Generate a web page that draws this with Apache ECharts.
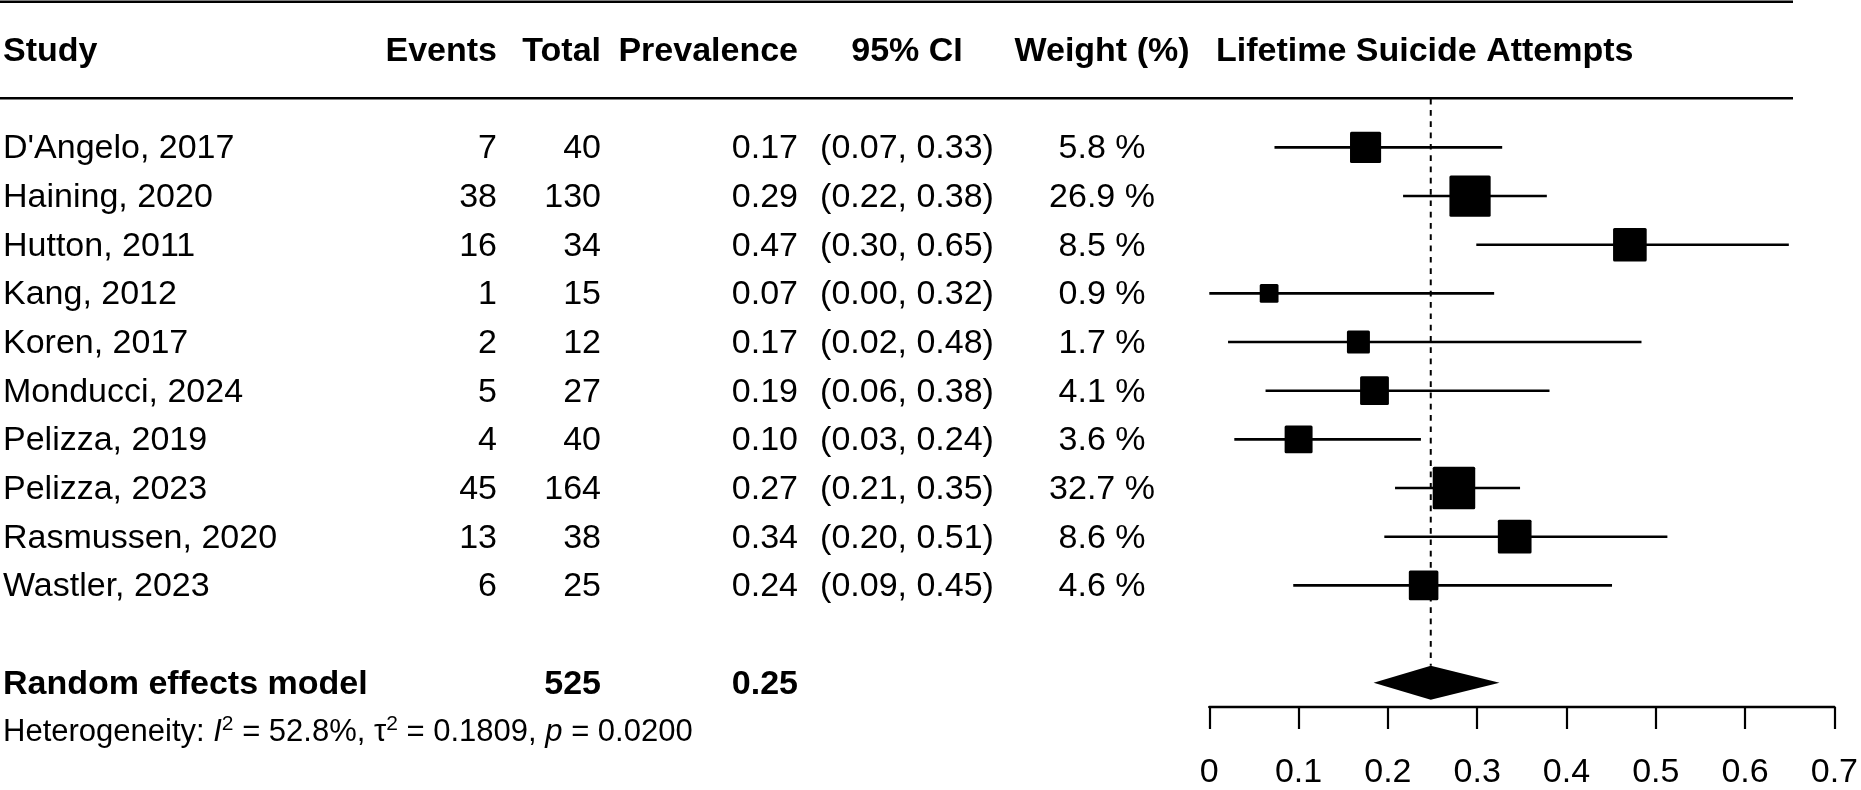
<!DOCTYPE html>
<html><head><meta charset="utf-8">
<script src="https://cdn.jsdelivr.net/npm/echarts@6/dist/echarts.min.js"></script>
<style>html,body{margin:0;padding:0;background:#fff}#c{width:1861px;height:790px}</style>
</head><body><div id="c"></div>
<script>
// ---- data ----
const studies = ["D'Angelo, 2017","Haining, 2020","Hutton, 2011","Kang, 2012","Koren, 2017","Monducci, 2024","Pelizza, 2019","Pelizza, 2023","Rasmussen, 2020","Wastler, 2023"];
const events = [7, 38, 16, 1, 2, 5, 4, 45, 13, 6];
const totals = [40, 130, 34, 15, 12, 27, 40, 164, 38, 25];
const prevalence = [0.175, 0.292, 0.471, 0.067, 0.167, 0.185, 0.100, 0.274, 0.342, 0.240];
const ciLower = [0.073, 0.217, 0.299, 0.000, 0.021, 0.063, 0.028, 0.208, 0.196, 0.094];
const ciUpper = [0.328, 0.378, 0.649, 0.319, 0.484, 0.381, 0.237, 0.348, 0.513, 0.451];
const prevLabels = ["0.17","0.29","0.47","0.07","0.17","0.19","0.10","0.27","0.34","0.24"];
const ciLabels = ["(0.07, 0.33)","(0.22, 0.38)","(0.30, 0.65)","(0.00, 0.32)","(0.02, 0.48)","(0.06, 0.38)","(0.03, 0.24)","(0.21, 0.35)","(0.20, 0.51)","(0.09, 0.45)"];
const weights = [5.8, 26.9, 8.5, 0.9, 1.7, 4.1, 3.6, 32.7, 8.6, 4.6];
const headers = ["Study","Events","Total","Prevalence","95% CI","Weight (%)","Lifetime Suicide Attempts"];
const pooledLabel = "Random effects model";
const pooledTotal = 525;
const pooledEst = 0.248;
const pooledLower = 0.184;
const pooledUpper = 0.325;
const pooledEstLabel = "0.25";
const hetI2 = "52.8%";
const hetTau2 = "0.1809";
const hetP = "0.0200";
const xTicks = [0, 0.1, 0.2, 0.3, 0.4, 0.5, 0.6, 0.7];

// ---- layout / style ----
const FONT = '"Liberation Sans", Arial, Helvetica, sans-serif';
const FS = 34;
const ROW_HEADER = -2, ROW_TOP = -3, ROW_RULE = -1, ROW_POOLED = 11, ROW_HET = 12;
const RULE_RIGHT = 1793;
const col = {study: 3, events: 497, total: 601, prev: 798, ci: 907, weight: 1102, plot: 1216};
const TXT_DY = 1.5;

function txt(text, x, y, align, bold, size) {
  return {type: 'text', style: {text: text, x: x, y: y + TXT_DY, align: align, verticalAlign: 'middle',
    fontSize: size || FS, fontFamily: FONT, fontWeight: bold ? 'bold' : 'normal', fill: '#000'}};
}

const chart = echarts.init(document.getElementById('c'), null, {renderer: 'canvas'});

const studyData = studies.map((s, i) => [i, ciLower[i], ciUpper[i], prevalence[i], weights[i]]);
const tableData = studies.map((s, i) => [0, i]);

const option = {
  backgroundColor: '#fff',
  animation: false,
  grid: {left: 1209.3, right: 21.7, top: 1.4, bottom: 75.7, containLabel: false},
  xAxis: {
    type: 'value', min: 0, max: 0.7, interval: 0.1, position: 'bottom',
    axisLine: {show: true, onZero: false, lineStyle: {color: '#000', width: 2.4}},
    axisTick: {show: true, inside: false, length: 22, lineStyle: {color: '#000', width: 2.2}},
    axisLabel: {show: true, color: '#000', fontSize: FS, fontFamily: FONT, margin: 66, verticalAlign: 'middle',
      formatter: v => { const t = xTicks.find(k => Math.abs(k - v) < 1e-9); return t === 0 ? '0' : (t !== undefined ? t.toFixed(1) : ''); }},
    splitLine: {show: false}
  },
  yAxis: {type: 'value', inverse: true, min: -3, max: 11.5, show: false, splitLine: {show: false}},
  series: [
    { // rules + dashed reference line + diamond
      type: 'custom', silent: true, clip: false,
      data: [[pooledEst, ROW_POOLED, pooledLower, pooledUpper]],
      renderItem: function (params, api) {
        const top = api.coord([0, ROW_TOP])[1];
        const rule = api.coord([0, ROW_RULE])[1];
        const c = api.coord([api.value(0), api.value(1)]);
        const lo = api.coord([api.value(2), api.value(1)]);
        const hi = api.coord([api.value(3), api.value(1)]);
        const h = 17;
        return {type: 'group', children: [
          {type: 'line', shape: {x1: 0, y1: top + 0.3, x2: RULE_RIGHT, y2: top + 0.3}, style: {stroke: '#000', lineWidth: 2.6}},
          {type: 'line', shape: {x1: 0, y1: rule - 0.5, x2: RULE_RIGHT, y2: rule - 0.5}, style: {stroke: '#000', lineWidth: 2.6}},
          {type: 'line', shape: {x1: c[0], y1: rule, x2: c[0], y2: c[1] - h}, style: {stroke: '#000', lineWidth: 2, lineDash: [5.7, 5.6]}},
          {type: 'polygon', shape: {points: [[lo[0], c[1]], [c[0], c[1] - h], [hi[0], c[1]], [c[0], c[1] + h]]}, style: {fill: '#000'}}
        ]};
      }
    },
    { // study CI lines + squares
      type: 'custom', silent: true, clip: false,
      data: studyData,
      renderItem: function (params, api) {
        const i = api.value(0);
        const lo = api.coord([api.value(1), i]);
        const hi = api.coord([api.value(2), i]);
        const c = api.coord([api.value(3), i]);
        const s = 19.5 + 6.6 * Math.log(api.value(4));
        return {type: 'group', children: [
          {type: 'line', shape: {x1: lo[0], y1: lo[1], x2: hi[0], y2: hi[1]}, style: {stroke: '#000', lineWidth: 2.6}},
          {type: 'rect', shape: {x: c[0] - s / 2, y: c[1] - s / 2, width: s, height: s, r: 1.5}, style: {fill: '#000'}}
        ]};
      }
    },
    { // table text, study rows
      type: 'custom', silent: true, clip: false,
      data: tableData,
      renderItem: function (params, api) {
        const i = api.value(1);
        const y = api.coord([0, i])[1];
        return {type: 'group', children: [
          txt(studies[i], col.study, y, 'left'),
          txt(String(events[i]), col.events, y, 'right'),
          txt(String(totals[i]), col.total, y, 'right'),
          txt(prevLabels[i], col.prev, y, 'right'),
          txt(ciLabels[i], col.ci, y, 'center'),
          txt(weights[i].toFixed(1) + ' %', col.weight, y, 'center')
        ]};
      }
    },
    { // header, pooled, heterogeneity
      type: 'custom', silent: true, clip: false,
      data: [[0, ROW_HEADER]],
      renderItem: function (params, api) {
        const yh = api.coord([0, ROW_HEADER])[1];
        const yp = api.coord([0, ROW_POOLED])[1];
        const yhet = api.coord([0, ROW_HET])[1];
        const het = {type: 'text', style: {
          text: '{n|Heterogeneity: }{i|I}{s|2}{n| = ' + hetI2 + ', τ}{s|2}{n| = ' + hetTau2 + ', }{i|p}{n| = ' + hetP + '}',
          x: col.study, y: yhet + 1, align: 'left', verticalAlign: 'middle', fill: '#000',
          rich: {
            n: {fontSize: 31, fontFamily: FONT, lineHeight: 37, fill: '#000'},
            i: {fontSize: 31, fontFamily: FONT, fontStyle: 'italic', lineHeight: 37, fill: '#000'},
            s: {fontSize: 21, fontFamily: FONT, lineHeight: 21, verticalAlign: 'top', fill: '#000'}
          }}};
        return {type: 'group', children: [
          txt(headers[0], col.study, yh, 'left', true),
          txt(headers[1], col.events, yh, 'right', true),
          txt(headers[2], col.total, yh, 'right', true),
          txt(headers[3], col.prev, yh, 'right', true),
          txt(headers[4], col.ci, yh, 'center', true),
          txt(headers[5], col.weight, yh, 'center', true),
          txt(headers[6], col.plot, yh, 'left', true),
          txt(pooledLabel, col.study, yp, 'left', true),
          txt(String(pooledTotal), col.total, yp, 'right', true),
          txt(pooledEstLabel, col.prev, yp, 'right', true),
          het
        ]};
      }
    }
  ]
};
chart.setOption(option);
</script>
</body></html>
